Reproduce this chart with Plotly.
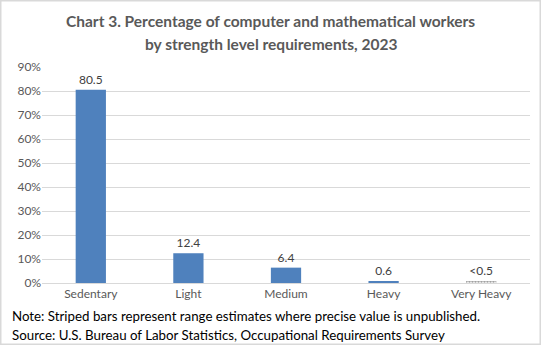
import plotly.graph_objects as go

categories = ["Sedentary", "Light", "Medium", "Heavy", "Very Heavy"]
values = [80.5, 12.4, 6.4, 0.6, 0.5]
labels = ["80.5", "12.4", "6.4", "0.6", "<0.5"]
striped = [False, False, False, False, True]
y_ticks = [0, 10, 20, 30, 40, 50, 60, 70, 80, 90]
title_lines = [
    "Chart 3. Percentage of computer and mathematical workers",
    "by strength level requirements, 2023",
]

W, H = 541, 345
L, R, T, B = 42, 11, 67, 62
pw, ph = W - L - R, H - T - B

BLUE = "#4f81bd"
FONT = "Lato, Open Sans, sans-serif"


def py(ypix):
    """Convert a pixel row (from top) to paper y."""
    return (H - B - ypix) / ph


def px(xpix):
    return (xpix - L) / pw


fig = go.Figure()
fig.add_trace(go.Bar(
    x=categories,
    y=values,
    text=labels,
    textposition="outside",
    textfont=dict(family=FONT, size=12, color="#404040"),
    cliponaxis=False,
    width=0.31,
    marker=dict(
        color=["#ffffff" if s else BLUE for s in striped],
        line=dict(width=0),
        pattern=dict(
            shape=["." if s else "" for s in striped],
            fgcolor=BLUE,
            bgcolor="#ffffff",
            size=3,
            solidity=0.5,
        ),
    ),
    hoverinfo="skip",
))

fig.update_layout(
    width=W, height=H,
    margin=dict(l=L, r=R, t=T, b=B),
    paper_bgcolor="#ffffff",
    plot_bgcolor="#ffffff",
    showlegend=False,
    xaxis=dict(
        showgrid=False, showline=True, linecolor="#d9d9d9", linewidth=1,
        ticks="", tickfont=dict(family=FONT, size=12, color="#595959"),
    ),
    yaxis=dict(
        range=[0, 90], tickvals=y_ticks,
        ticktext=[f"{v}%" for v in y_ticks],
        showgrid=True, gridcolor="#d9d9d9", gridwidth=1,
        zeroline=False, ticks="",
        tickfont=dict(family=FONT, size=12, color="#595959"),
    ),
    font=dict(family=FONT),
)

for txt, yp in zip(title_lines, [21, 44]):
    fig.add_annotation(
        text=f"<b>{txt}</b>", xref="paper", yref="paper",
        x=px(W / 2), y=py(yp), xanchor="center", yanchor="middle",
        showarrow=False,
        font=dict(family=FONT, size=15.5, color="#595959"),
    )

notes = [
    ("Note: Striped bars represent range estimates where precise value is unpublished.", 316),
    ("Source: U.S. Bureau of Labor Statistics, Occupational Requirements Survey", 335),
]
for txt, yp in notes:
    fig.add_annotation(
        text=txt, xref="paper", yref="paper",
        x=px(10), y=py(yp),
        xanchor="left", yanchor="middle", showarrow=False,
        font=dict(family=FONT, size=13.3, color="#000000"),
    )

# thin frame around the whole chart
fig.add_shape(
    type="rect", xref="paper", yref="paper",
    x0=px(0.75), x1=px(W - 0.75),
    y0=py(H - 0.75), y1=py(0.75),
    line=dict(color="#d9d9d9", width=1.5), layer="below",
)

fig.write_html("out.html")
